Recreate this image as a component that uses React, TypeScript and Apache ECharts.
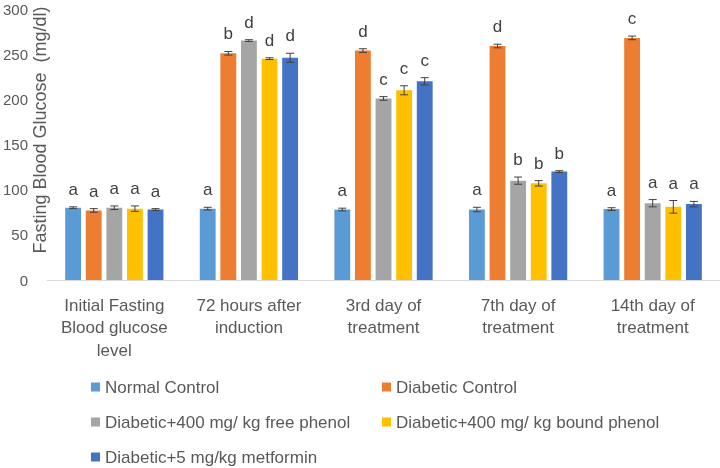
import React, { useEffect, useRef } from "react";
import * as echarts from "echarts";

const categories = [
  "Initial Fasting\nBlood glucose\nlevel",
  "72 hours after\ninduction",
  "3rd day of\ntreatment",
  "7th day of\ntreatment",
  "14th day of\ntreatment",
];

const seriesNames = [
  "Normal Control",
  "Diabetic Control",
  "Diabetic+400 mg/ kg free phenol",
  "Diabetic+400 mg/ kg bound phenol",
  "Diabetic+5 mg/kg metformin",
];

const normalControl = [80, 79, 78, 78, 78.5];
const diabeticControl = [77, 251, 254, 259, 268];
const freePhenol = [80, 265, 201, 110, 85];
const boundPhenol = [79, 245, 210, 107, 81];
const metformin = [78, 246, 220, 120, 84];

const normalErr = [1, 1.5, 1.5, 2.5, 1.5];
const diabeticErr = [2, 2, 2, 2, 2];
const freeErr = [2, 1, 2, 4, 4];
const boundErr = [3, 1, 5, 3, 7];
const metErr = [1, 5, 4, 1, 3];

const normalLetters = ["a", "a", "a", "a", "a"];
const diabeticLetters = ["a", "b", "d", "d", "c"];
const freeLetters = ["a", "d", "c", "b", "a"];
const boundLetters = ["a", "d", "c", "b", "a"];
const metLetters = ["a", "d", "c", "b", "a"];

const yTicks = [0, 50, 100, 150, 200, 250, 300];

const colors = ["#5B9BD5", "#ED7D31", "#A5A5A5", "#FFC000", "#4472C4"];
const FONT = "'Liberation Sans', Arial, sans-serif";
const CAT_GAP = 0.27;
const BAR_GAP = 0.3;

export default function App() {
  const ref = useRef<HTMLDivElement>(null);

  useEffect(() => {
    if (!ref.current) return;
    const chart = echarts.init(ref.current, null, { renderer: "svg" });
    const values = [normalControl, diabeticControl, freePhenol, boundPhenol, metformin];
    const errs = [normalErr, diabeticErr, freeErr, boundErr, metErr];
    const letters = [normalLetters, diabeticLetters, freeLetters, boundLetters, metLetters];
    const N = values.length;

    const barSeries = values.map((v, i) => ({
      name: seriesNames[i],
      type: "bar",
      data: v,
      itemStyle: { color: colors[i] },
      barGap: BAR_GAP * 100 + "%",
      barCategoryGap: CAT_GAP * 100 + "%",
    }));

    const errSeries = values.map((v, si) => ({
      type: "custom",
      name: "err" + si,
      silent: true,
      z: 5,
      data: v.map((val, ci) => [ci, val, errs[si][ci]]),
      renderItem: (params: any, api: any) => {
        const ci = api.value(0);
        const val = api.value(1);
        const e = api.value(2);
        const center = api.coord([ci, val]);
        const band = api.size([1, 0])[0];
        const barW = (band * (1 - CAT_GAP)) / (N + (N - 1) * BAR_GAP);
        const total = N * barW + (N - 1) * barW * BAR_GAP;
        const x = center[0] - total / 2 + si * barW * (1 + BAR_GAP) + barW / 2;
        const top = api.coord([ci, val + e])[1];
        const bot = api.coord([ci, val - e])[1];
        const cap = 4;
        const st = { stroke: "#404040", lineWidth: 1 };
        return {
          type: "group",
          children: [
            { type: "line", shape: { x1: x, y1: top, x2: x, y2: bot }, style: st },
            { type: "line", shape: { x1: x - cap, y1: top, x2: x + cap, y2: top }, style: st },
            { type: "line", shape: { x1: x - cap, y1: bot, x2: x + cap, y2: bot }, style: st },
            {
              type: "text",
              x: x,
              y: top - 9,
              style: {
                text: letters[si][params.dataIndex],
                textAlign: "center",
                textVerticalAlign: "bottom",
                fontSize: 17,
                fontFamily: FONT,
                fill: "#404040",
              },
            },
          ],
        };
      },
    }));

    const legendPos = [
      { left: 91, top: 377 },
      { left: 382, top: 377 },
      { left: 91, top: 412 },
      { left: 382, top: 412 },
      { left: 91, top: 447 },
    ];

    chart.setOption({
      animation: false,
      textStyle: { fontFamily: FONT },
      grid: { left: 47, right: 0, top: 9, bottom: 188, containLabel: false },
      xAxis: {
        type: "category",
        data: categories,
        axisLine: { show: true, lineStyle: { color: "#D9D9D9", width: 1 } },
        axisTick: { show: false },
        axisLabel: {
          color: "#595959",
          fontSize: 17,
          lineHeight: 22.5,
          margin: 14,
          fontFamily: FONT,
          interval: 0,
        },
      },
      yAxis: {
        type: "value",
        min: yTicks[0],
        max: yTicks[yTicks.length - 1],
        interval: yTicks[1] - yTicks[0],
        axisLine: { show: false },
        axisTick: { show: false },
        splitLine: { show: false },
        axisLabel: { color: "#595959", fontSize: 15, margin: 19, fontFamily: FONT },
      },
      legend: seriesNames.map((n, i) => ({
        data: [n],
        left: legendPos[i].left,
        top: legendPos[i].top,
        icon: "rect",
        itemWidth: 9,
        itemHeight: 9,
        padding: 0,
        selectedMode: false,
        textStyle: { color: "#595959", fontSize: 17, fontFamily: FONT, lineHeight: 20 },
      })),
      graphic: [
        {
          type: "text",
          x: 40,
          y: 130,
          rotation: Math.PI / 2,
          style: {
            text: "Fasting Blood Glucose  (mg/dl)",
            textAlign: "center",
            textVerticalAlign: "middle",
            fontSize: 18,
            fontFamily: FONT,
            fill: "#595959",
          },
        },
      ],
      series: [...barSeries, ...errSeries],
    });

    return () => chart.dispose();
  }, []);

  return (
    <div
      ref={ref}
      style={{ position: "fixed", left: 0, top: 0, width: 720, height: 468 }}
    />
  );
}
